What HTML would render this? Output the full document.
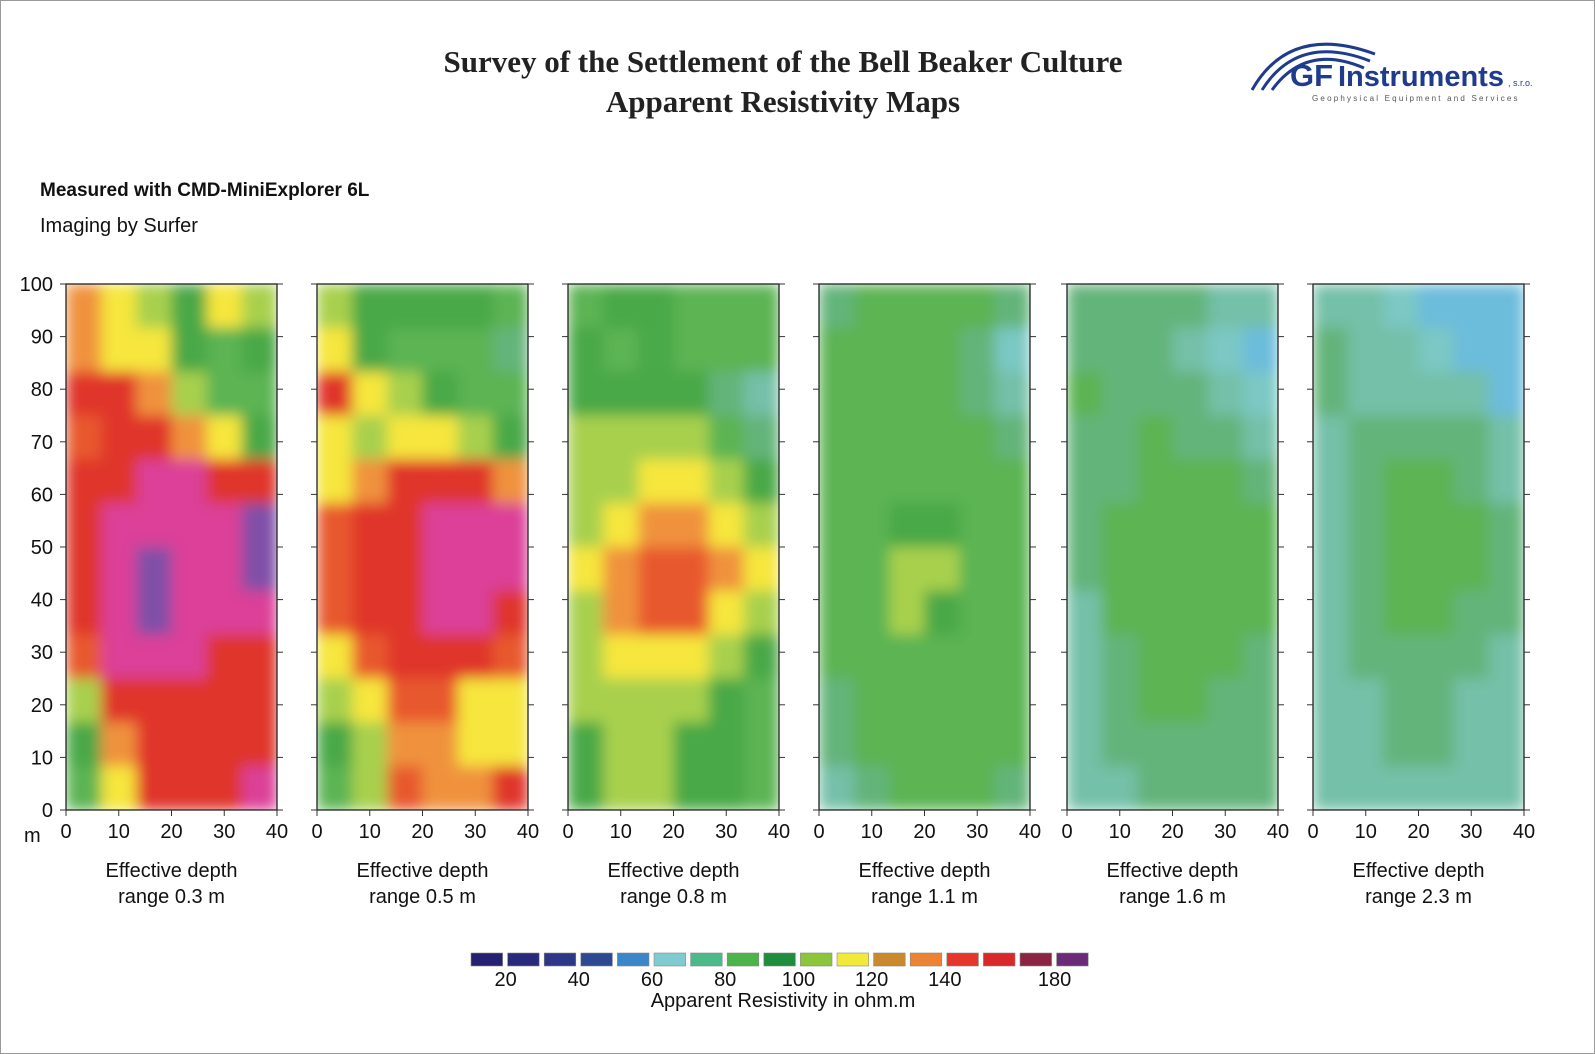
<!DOCTYPE html>
<html><head><meta charset="utf-8">
<style>
html,body{margin:0;padding:0;background:#fff;}
body{width:1595px;height:1054px;overflow:hidden;position:relative;font-family:"Liberation Sans",sans-serif;}
#frame{position:absolute;left:0;top:0;width:1593px;height:1052px;border:1px solid #9a9a9a;}
.t{position:absolute;white-space:nowrap;}
</style></head>
<body>
<div id="frame"></div>
<div class="t" style="left:0;width:1566px;top:44px;text-align:center;font:bold 31px 'Liberation Serif',serif;color:#222;">Survey of the Settlement of the Bell Beaker Culture</div>
<div class="t" style="left:0;width:1566px;top:84px;text-align:center;font:bold 31px 'Liberation Serif',serif;color:#222;">Apparent Resistivity Maps</div>
<div style="position:absolute;left:1250px;top:28px;width:300px;height:80px;">
<svg width="300" height="80">
<path d="M2 62 Q40 -5 125 26" fill="none" stroke="#1f3c8c" stroke-width="3"/>
<path d="M12 62 Q48 5 120 33" fill="none" stroke="#1f3c8c" stroke-width="3"/>
<path d="M22 62 Q56 15 114 40" fill="none" stroke="#1f3c8c" stroke-width="3"/>
<text x="40" y="58" font-family="Liberation Sans,sans-serif" font-weight="bold" font-size="31" fill="#1f3c8c">GF</text>
<text x="88" y="58" font-family="Liberation Sans,sans-serif" font-weight="bold" font-size="29" fill="#1f3c8c">Instruments</text>
<text x="258" y="58" font-family="Liberation Sans,sans-serif" font-size="9" fill="#1f3c8c">, s.r.o.</text>
<text x="62" y="73" font-family="Liberation Sans,sans-serif" font-size="8" letter-spacing="2.2" fill="#555">Geophysical Equipment and Services</text>
</svg></div>
<div class="t" style="left:40px;top:180px;font:bold 19px 'Liberation Sans',sans-serif;color:#111;">Measured with CMD-MiniExplorer 6L</div>
<div class="t" style="left:40px;top:215px;font:20px 'Liberation Sans',sans-serif;color:#111;">Imaging by Surfer</div>

<svg id="chart" width="1595" height="1054" style="position:absolute;left:0;top:0;"></svg>

<script>
// ---- data ----
const depthLabels = ["0.3", "0.5", "0.8", "1.1", "1.6", "2.3"];
const xTicks = [0, 10, 20, 30, 40];
const yTicks = [0, 10, 20, 30, 40, 50, 60, 70, 80, 90, 100];
const legendLabels = ["20", "40", "60", "80", "100", "120", "140", "180"];
// grids: rows top (y=100) to bottom (y=0), 6 columns x=0..40 (ohm.m)
const grid03 = [
[120,115,105,90,110,100],[125,115,110,90,85,90],[145,140,120,105,88,85],[135,145,145,120,110,95],
[140,150,165,160,150,140],[150,170,175,165,170,185],[145,175,185,170,175,185],[140,170,185,175,170,175],
[135,160,170,160,150,150],[105,145,150,145,140,145],[90,120,145,140,145,150],[85,115,140,145,150,165]];
const grid05 = [
[105,95,90,90,90,88],[110,90,85,88,85,80],[140,110,100,90,85,82],[110,100,115,110,100,90],
[115,120,140,150,145,120],[135,145,150,160,165,170],[130,145,155,170,175,165],[130,150,150,165,160,150],
[110,130,140,145,140,135],[105,115,135,130,115,110],[90,100,125,120,110,110],[88,100,130,125,120,140]];
const grid08 = [
[88,90,90,88,88,88],[90,88,90,88,88,85],[95,92,90,90,80,72],[100,100,105,100,88,80],
[100,105,112,110,100,92],[105,115,125,120,112,105],[110,120,135,130,120,115],[105,120,135,130,115,100],
[100,110,115,110,100,92],[100,102,105,100,92,88],[95,100,105,95,90,88],[92,100,100,92,90,88]];
const grid11 = [
[80,85,88,88,85,80],[85,88,85,85,75,62],[88,85,88,85,80,68],[86,86,88,86,85,80],
[86,88,89,89,88,86],[85,88,92,92,89,88],[85,88,102,104,89,88],[85,88,100,95,88,86],
[82,86,89,89,86,85],[80,86,88,88,86,84],[75,84,86,86,84,82],[72,80,85,85,82,80]];
const grid16 = [
[74,74,74,74,72,70],[80,74,74,72,60,50],[82,78,78,74,70,55],[80,78,82,80,78,72],
[76,80,85,85,82,80],[75,82,86,86,84,84],[75,84,88,88,86,84],[72,82,86,86,84,82],
[70,80,84,84,84,80],[70,78,82,84,80,76],[68,75,80,80,75,74],[68,72,78,78,74,74]];
const grid23 = [
[72,72,60,50,48,48],[75,72,70,62,50,48],[80,72,72,72,65,50],[72,76,80,80,76,65],
[70,78,82,82,80,72],[68,80,84,84,82,78],[68,80,88,88,82,78],[66,78,84,84,80,75],
[66,76,80,80,78,72],[65,72,78,78,72,70],[65,70,75,75,72,70],[65,68,72,72,72,70]];
const grids = [grid03, grid05, grid08, grid11, grid16, grid23];

// ---- scales ----
const levels = [55, 65, 74, 82, 90, 100, 110, 120, 130, 140, 160, 180];
const levelColors = ["#6cbcdc","#7cc8c4","#74c0a8","#64b47a","#5cb452","#4aa846","#a8d04e","#f6e63c","#f0923c","#e8582e","#e0352c","#dc3f98","#8050a8"];
const legendColors = ["#262070","#2a2a7c","#2e3688","#2f4894","#3b86c8","#80cbd2","#4cb98a","#4cb448","#1f8c3e","#8cc43a","#f2ea3a","#c88a2c","#ec8332","#e4362c","#d8282a","#8a2442","#6a2a78"];
function colorFor(v){ let i=0; while(i<levels.length && v>=levels[i]) i++; return levelColors[i]; }

const panelX = [66, 317, 568, 819, 1067, 1313];
const panelW = 211, top0 = 284, bot0 = 810;
function sx(p, x){ return panelX[p] + x/40*panelW; }
function sy(y){ return bot0 - y/100*(bot0-top0); }

const NS = "http://www.w3.org/2000/svg";
const svg = document.getElementById("chart");
function mk(tag, attrs, parent){ const e=document.createElementNS(NS,tag); for(const k in attrs) e.setAttribute(k, attrs[k]); (parent||svg).appendChild(e); return e; }

const defs = mk("defs", {});
const flt = mk("filter", {id:"soft", x:"0", y:"0", width:"1", height:"1"}, defs);
mk("feGaussianBlur", {stdDeviation:"7", edgeMode:"duplicate"}, flt);

grids.forEach((g, p) => {
  const rows = g.length, cols = g[0].length;
  const grp = mk("g", {filter:"url(#soft)"});
  
  
  g.forEach((row, r) => row.forEach((v, c) => {
    const x0 = sx(p, c*40/cols), x1 = sx(p, (c+1)*40/cols);
    const y0 = sy(100 - r*100/rows), y1 = sy(100 - (r+1)*100/rows);
    const cell = mk("rect", {x:x0, y:y0, width:x1-x0+0.5, height:y1-y0+0.5, fill:colorFor(v)}, grp);
    
    
  }));
  const border = mk("rect", {x:panelX[p], y:top0, width:panelW, height:bot0-top0, fill:"none", stroke:"#222", "stroke-width":1.3});
  
  
  xTicks.forEach(t => {
    mk("line", {x1:sx(p,t), x2:sx(p,t), y1:bot0, y2:bot0+6, stroke:"#333"});
    const lab = mk("text", {x:sx(p,t), y:838, "text-anchor":"middle", "font-size":20, "font-family":"Liberation Sans,sans-serif", fill:"#111"});
    lab.textContent = t;
    
    
  });
  yTicks.forEach(t => {
    mk("line", {x1:panelX[p]+panelW, x2:panelX[p]+panelW+6, y1:sy(t), y2:sy(t), stroke:"#333"});
    mk("line", {x1:panelX[p]-6, x2:panelX[p], y1:sy(t), y2:sy(t), stroke:"#333"});
  });
  const cx = panelX[p] + panelW/2;
  const c1 = mk("text", {x:cx, y:877, "text-anchor":"middle", "font-size":20, "font-family":"Liberation Sans,sans-serif", fill:"#111"});
  c1.textContent = "Effective depth";
  
  
  const c2 = mk("text", {x:cx, y:903, "text-anchor":"middle", "font-size":20, "font-family":"Liberation Sans,sans-serif", fill:"#111"});
  c2.textContent = "range " + depthLabels[p] + " m";
  
  
});
yTicks.forEach(t => {
  const lab = mk("text", {x:53, y:sy(t)+7, "text-anchor":"end", "font-size":20, "font-family":"Liberation Sans,sans-serif", fill:"#111"});
  lab.textContent = t;
  
  
});
const mlab = mk("text", {x:24, y:842, "font-size":20, "font-family":"Liberation Sans,sans-serif", fill:"#111"});
mlab.textContent = "m";



// legend
const lx0 = 471, lstep = 36.6;
legendColors.forEach((c, i) => {
  const b = mk("rect", {x:lx0 + i*lstep, y:953, width:lstep-5, height:13, fill:c, stroke:"#888", "stroke-width":0.6});
  
  
});
const legendPos = [1, 3, 5, 7, 9, 11, 13, 16];
legendLabels.forEach((l, i) => {
  const t = mk("text", {x:lx0 + legendPos[i]*lstep - 2, y:986, "text-anchor":"middle", "font-size":20, "font-family":"Liberation Sans,sans-serif", fill:"#111"});
  t.textContent = l;
  
  
});
const lt = mk("text", {x:783, y:1007, "text-anchor":"middle", "font-size":20, "font-family":"Liberation Sans,sans-serif", fill:"#111"});
lt.textContent = "Apparent Resistivity in ohm.m";


</script>
</body></html>
